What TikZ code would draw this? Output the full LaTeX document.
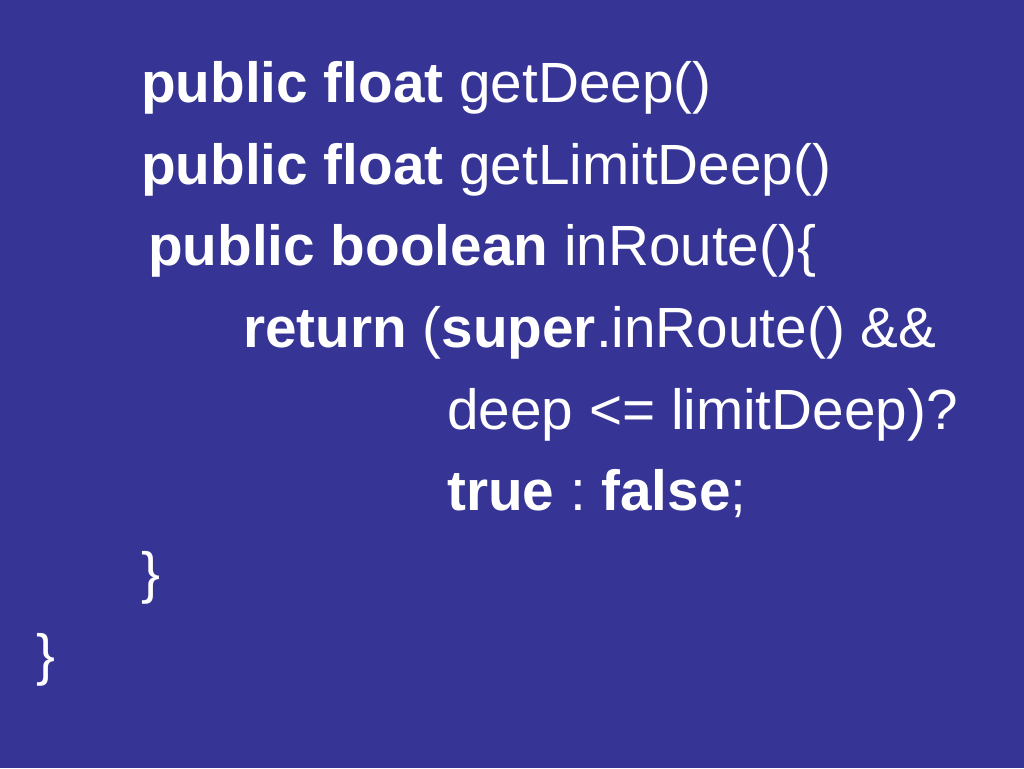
\documentclass[tikz,border=0pt]{standalone}
\usepackage{fontspec}
\setmainfont{Liberation Sans}
\definecolor{slidebg}{HTML}{363596}
\frenchspacing
\begin{document}
\begin{tikzpicture}[x=1pt,y=-1pt,
  codeline/.style={anchor=base west,inner sep=0pt,text=white,font=\fontsize{56.7}{60}\selectfont}]
\fill[slidebg] (0,0) rectangle (1024,768);
\useasboundingbox (0,0) rectangle (1024,768);
\node[codeline] (l1) at (141,102) {\textbf{public float} getDeep()};
\node[codeline] (l2) at (141,184) {\textbf{public float} getLimitDeep()};
\node[codeline] (l3) at (148,265) {\textbf{public boolean} inRoute()\{};
\node[codeline] (l4) at (243,347) {\textbf{return} (\textbf{super}.inRoute() \&\&};
\node[codeline] (l5) at (447,429) {deep <= limitDeep)?};
\node[codeline] (l6) at (447,510) {\textbf{true} : \textbf{false};};
\node[codeline] (l7) at (141,592) {\}};
\node[codeline] (l8) at (36,674) {\}};
\end{tikzpicture}
\end{document}
